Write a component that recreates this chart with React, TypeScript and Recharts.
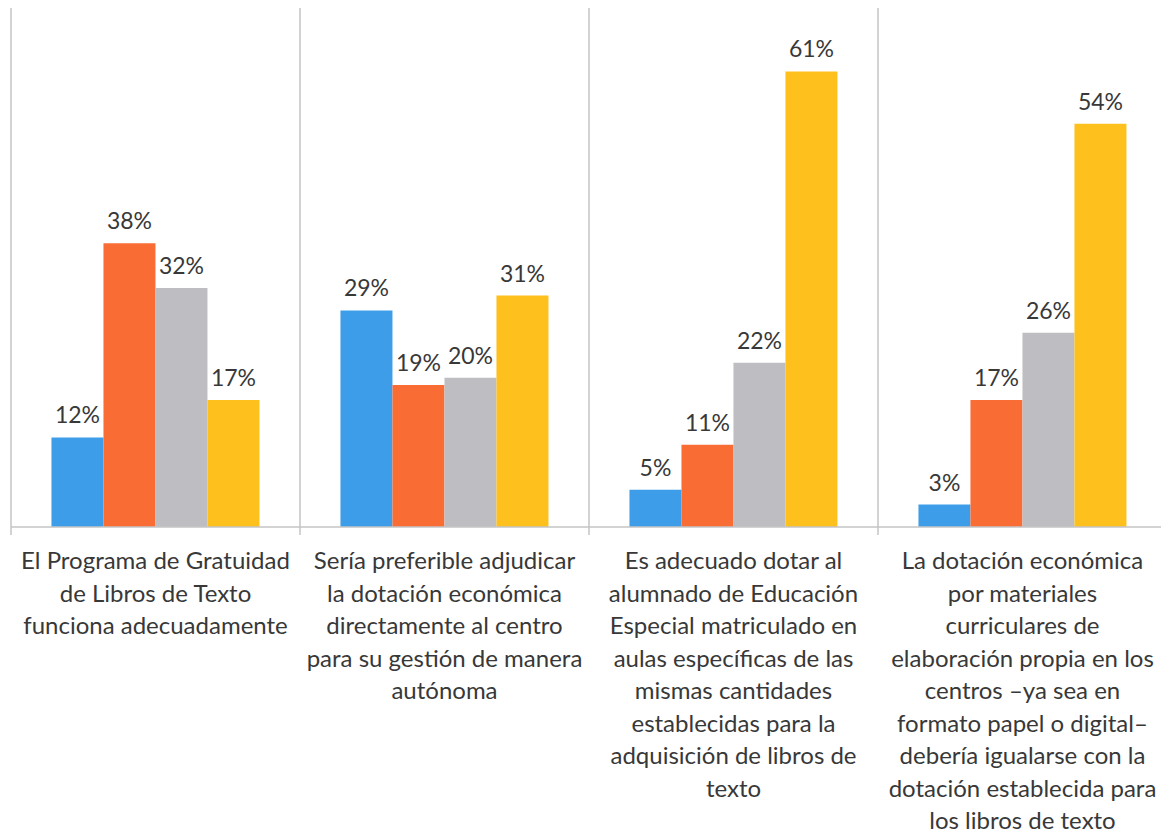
import React from "react";
import { BarChart, Bar, XAxis, YAxis, CartesianGrid, LabelList } from "recharts";

const categories = [
  "El Programa de Gratuidad|de Libros de Texto|funciona adecuadamente",
  "Sería preferible adjudicar|la dotación económica|directamente al centro|para su gestión de manera|autónoma",
  "Es adecuado dotar al|alumnado de Educación|Especial matriculado en|aulas específicas de las|mismas cantidades|establecidas para la|adquisición de libros de|texto",
  "La dotación económica|por materiales|curriculares de|elaboración propia en los|centros –ya sea en|formato papel o digital–|debería igualarse con la|dotación establecida para|los libros de texto",
];
const serieA = [12, 29, 5, 3];
const serieB = [38, 19, 11, 17];
const serieC = [32, 20, 22, 26];
const serieD = [17, 31, 61, 54];

const data = categories.map((cat, i) => ({
  cat,
  a: serieA[i],
  b: serieB[i],
  c: serieC[i],
  d: serieD[i],
}));

const CHART_W = 1161;
const CHART_H = 825;
const MARGIN = { top: 0, right: 2, left: 3, bottom: 0 };
const PLOT_W = CHART_W - MARGIN.left - MARGIN.right;
const STEP = PLOT_W / categories.length;
const FONT = "Lato, 'Noto Sans', sans-serif";
const GRID = "#c4c4c4";
const TEXT = "#383838";

const CategoryTick = (props: any) => {
  const { x, y, payload, index } = props;
  const lines = String(payload.value).split("|");
  const left = x - STEP / 2;
  const right = x + STEP / 2;
  return (
    <g>
      <line x1={left} x2={left} y1={y} y2={y + 8} stroke={GRID} strokeWidth={1.5} />
      {index === categories.length - 1 && (
        <line x1={right} x2={right} y1={y} y2={y + 8} stroke={GRID} strokeWidth={1.5} />
      )}
      <text x={x} y={y + 42} textAnchor="middle" fill={TEXT} fontSize={24} fontFamily={FONT}>
        {lines.map((l, i) => (
          <tspan key={i} x={x} dy={i === 0 ? 0 : 32.5}>
            {l}
          </tspan>
        ))}
      </text>
    </g>
  );
};

const fmt = (v: any) => `${v}%`;
const labelProps = {
  position: "top" as const,
  offset: 14,
  formatter: fmt,
  fill: TEXT,
  fontSize: 23,
  fontFamily: FONT,
};

export default function App() {
  return (
    <div style={{ width: CHART_W, height: CHART_H, background: "#fff" }}>
      <BarChart
        width={CHART_W}
        height={CHART_H}
        data={data}
        margin={MARGIN}
        barCategoryGap="14%"
        barGap={0}
      >
        <CartesianGrid
          horizontal={false}
          vertical={true}
          stroke={GRID}
          strokeWidth={1.5}
          verticalCoordinatesGenerator={({ offset }: any) =>
            categories
              .map((_, i) => offset.left + i * (offset.width / categories.length))
              .concat([offset.left + offset.width])
          }
        />
        <XAxis
          dataKey="cat"
          height={306}
          interval={0}
          tickSize={0}
          tickMargin={0}
          tickLine={false}
          axisLine={{ stroke: GRID, strokeWidth: 1.5 }}
          tick={<CategoryTick />}
        />
        <YAxis hide domain={[0, 69.5]} />
        <Bar dataKey="a" fill="#3d9de9" isAnimationActive={false}>
          <LabelList dataKey="a" {...labelProps} />
        </Bar>
        <Bar dataKey="b" fill="#f96d35" isAnimationActive={false}>
          <LabelList dataKey="b" {...labelProps} />
        </Bar>
        <Bar dataKey="c" fill="#bebec2" isAnimationActive={false}>
          <LabelList dataKey="c" {...labelProps} />
        </Bar>
        <Bar dataKey="d" fill="#fdc01d" isAnimationActive={false}>
          <LabelList dataKey="d" {...labelProps} />
        </Bar>
      </BarChart>
    </div>
  );
}
